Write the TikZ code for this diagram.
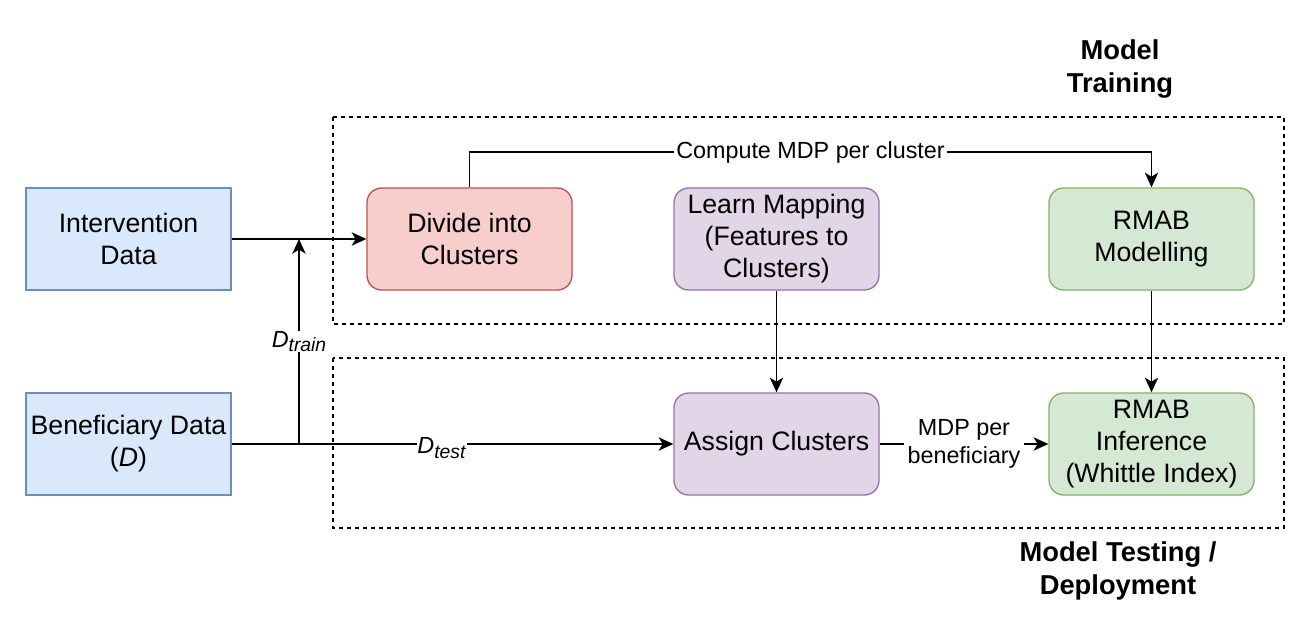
\documentclass[tikz,border=0pt]{standalone}
\usepackage{fontspec}
\setmainfont{Liberation Sans}
\usetikzlibrary{arrows.meta,positioning}
\definecolor{bluefill}{HTML}{DAE8FC}
\definecolor{blueline}{HTML}{6C8EBF}
\definecolor{redfill}{HTML}{F8CECC}
\definecolor{redline}{HTML}{B85450}
\definecolor{purpfill}{HTML}{E1D5E7}
\definecolor{purpline}{HTML}{9673A6}
\definecolor{greenfill}{HTML}{D5E8D4}
\definecolor{greenline}{HTML}{82B366}
\newcommand{\subit}[2]{\textit{#1}\raisebox{-0.35ex}{\fontsize{14.5}{15}\selectfont\textit{#2}}}
\tikzset{
  box/.style={minimum width=153.75pt, minimum height=76.5pt, inner sep=2pt, align=center,
    font=\fontsize{20}{24}\selectfont, line width=1pt},
  databox/.style={box, draw=blueline, fill=bluefill},
  redbox/.style={box, draw=redline, fill=redfill, rounded corners=11pt},
  purpbox/.style={box, draw=purpline, fill=purpfill, rounded corners=11pt},
  greenbox/.style={box, draw=greenline, fill=greenfill, rounded corners=11pt},
  conn/.style={line width=1.4pt, -{Stealth[length=11pt,width=10pt,inset=3pt]}},
  lbl/.style={fill=white, inner sep=1.5pt, align=center, font=\fontsize{17.5}{21.5}\selectfont},
  region/.style={draw, line width=0.9pt, dash pattern=on 3pt off 3pt},
  title/.style={align=center, font=\bfseries\fontsize{20.5}{25}\selectfont}
}
\begin{document}
\begin{tikzpicture}[x=0.75pt,y=-0.75pt]
\useasboundingbox[fill=white] (0,0) rectangle (1309,621);
% regions
\draw[region] (333,117) rectangle (1284,324);
\draw[region] (333,358) rectangle (1284,528);
\node[title] (ttrain) at (1120,69) {Model\\Training};
\node[title] (ttest) at (1118,571) {Model Testing /\\Deployment};
% boxes
\node[databox] (interv) at (128.5,239) {Intervention\\Data};
\node[databox] (benef) at (128.5,444) {Beneficiary Data\\(\textit{D})};
\node[redbox] (divide) at (469.5,239) {Divide into\\Clusters};
\node[purpbox] (learn) at (776.5,239) {Learn Mapping\\(Features to\\Clusters)};
\node[greenbox] (rmabm) at (1151.5,239) {RMAB\\Modelling};
\node[purpbox] (assign) at (776.5,444) {Assign Clusters};
\node[greenbox] (rmabi) at (1151.5,444) {RMAB\\Inference\\(Whittle Index)};
% junctions
\coordinate (j1) at (299,239);
\coordinate (j2) at (299,444);
% connectors
\draw[conn] (interv.east) -- (divide.west);
\draw[conn] (benef.east) -- node[lbl, pos=0.5, xshift=-8pt, inner sep=0.5pt, yshift=-3pt] {\subit{D}{test}} (assign.west);
\draw[conn] (j2) -- node[lbl, pos=0.5, yshift=0pt, inner sep=0.5pt] {\subit{D}{train}} (j1);
\draw[conn] (divide.north) -- ++(0,-35) -| node[lbl, pos=0.25] {Compute MDP per cluster} (rmabm.north);
\draw[conn] (learn.south) -- (assign.north);
\draw[conn] (rmabm.south) -- (rmabi.north);
\draw[conn] (assign.east) -- node[lbl, inner sep=3pt] {MDP per\\beneficiary} (rmabi.west);
\end{tikzpicture}
\end{document}
